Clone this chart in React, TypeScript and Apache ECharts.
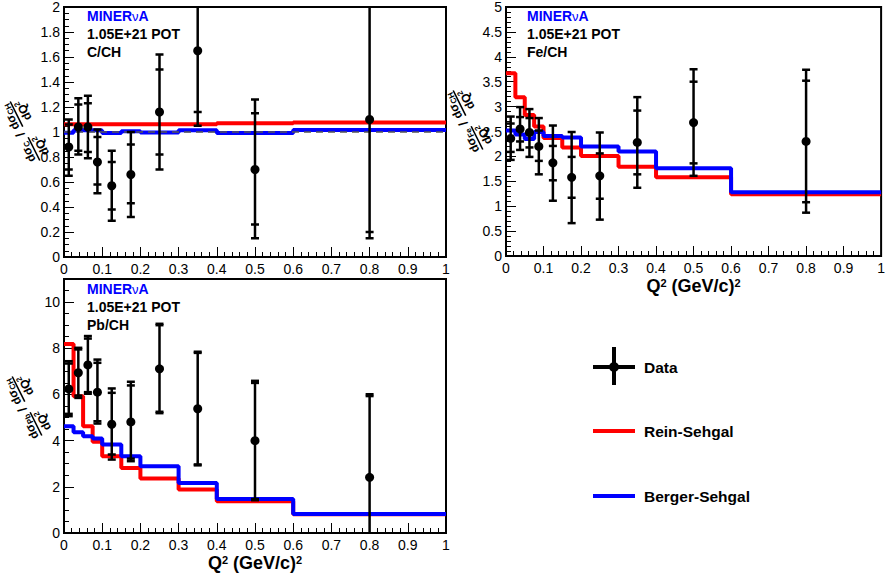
import React, { useEffect, useRef } from "react";
import * as echarts from "echarts";

const FONT = "Liberation Sans, Arial, sans-serif";

// Q^2 bin edges and centres (GeV/c)^2
const binEdges = [0, 0.025, 0.05, 0.075, 0.1, 0.15, 0.2, 0.3, 0.4, 0.6, 1.0];
const binCenters = [0.0125, 0.0375, 0.0625, 0.0875, 0.125, 0.175, 0.25, 0.35, 0.5, 0.8];

// C/CH
const cData = [0.88, 1.04, 1.04, 0.76, 0.57, 0.66, 1.16, 1.65, 0.70, 1.10];
const cStatLo = [0.70, 0.85, 0.84, 0.58, 0.38, 0.43, 0.82, 1.16, 0.26, 0.20];
const cStatHi = [1.06, 1.22, 1.23, 0.96, 0.76, 0.90, 1.50, 2.15, 1.15, 2.80];
const cTotLo = [0.65, 0.82, 0.79, 0.51, 0.29, 0.32, 0.70, 1.05, 0.15, 0.15];
const cTotHi = [1.10, 1.27, 1.29, 1.02, 0.85, 1.00, 1.62, 2.30, 1.26, 3.00];
const cRein = [1.063, 1.063, 1.063, 1.063, 1.063, 1.063, 1.063, 1.063, 1.07, 1.076];
const cBerger = [0.995, 1.015, 1.015, 1.012, 0.993, 1.006, 0.997, 1.015, 0.993, 1.016];

// Fe/CH
const feData = [2.36, 2.55, 2.48, 2.20, 1.87, 1.58, 1.61, 2.28, 2.68, 2.30];
const feStatLo = [2.09, 2.30, 2.18, 1.91, 1.52, 1.17, 1.15, 1.64, 1.86, 1.08];
const feStatHi = [2.66, 2.79, 2.77, 2.52, 2.21, 1.99, 2.06, 2.92, 3.50, 3.52];
const feTotLo = [1.93, 2.13, 1.99, 1.64, 1.11, 0.66, 0.73, 1.37, 1.61, 0.87];
const feTotHi = [2.80, 2.99, 2.95, 2.77, 2.62, 2.49, 2.48, 3.19, 3.75, 3.74];
const feRein = [3.67, 3.19, 2.83, 2.60, 2.37, 2.18, 2.01, 1.79, 1.58, 1.24];
const feBerger = [2.52, 2.44, 2.35, 2.49, 2.41, 2.38, 2.20, 2.10, 1.76, 1.28];

// Pb/CH
const pbData = [6.24, 6.94, 7.28, 6.10, 4.71, 4.81, 7.11, 5.38, 4.00, 2.41];
const pbStatLo = [5.16, 5.95, 6.10, 4.84, 3.40, 3.22, 5.25, 2.97, 1.47, -1.0];
const pbStatHi = [7.34, 7.95, 8.42, 7.37, 6.07, 6.39, 9.00, 7.80, 6.50, 5.93];
const pbTotLo = [5.06, 5.85, 6.03, 4.74, 3.18, 3.11, 5.19, 2.93, 1.42, -1.5];
const pbTotHi = [7.44, 8.02, 8.53, 7.51, 6.26, 6.55, 9.06, 7.85, 6.59, 6.01];
const pbRein = [8.19, 5.92, 4.62, 3.95, 3.32, 2.82, 2.36, 1.88, 1.37, 0.81];
const pbBerger = [4.62, 4.36, 4.19, 4.09, 3.83, 3.32, 2.89, 2.17, 1.47, 0.82];

const refLine = [1, 1];

const xTicks = ["0", "0.1", "0.2", "0.3", "0.4", "0.5", "0.6", "0.7", "0.8", "0.9", "1"];

const RED = "#ff0000";
const BLUE = "#0000ff";

function histData(vals: number[]) {
  return binEdges.map((e, i) => [e, vals[Math.min(i, vals.length - 1)]]);
}

function pointData(d: number[], sLo: number[], sHi: number[], tLo: number[], tHi: number[]) {
  return binCenters.map((x, i) => [x, d[i], sLo[i], sHi[i], tLo[i], tHi[i]]);
}

function renderErr(params: any, api: any) {
  const x = api.value(0);
  const p = api.coord([x, api.value(1)]);
  const sl = api.coord([x, api.value(2)])[1];
  const sh = api.coord([x, api.value(3)])[1];
  const tl = api.coord([x, api.value(4)])[1];
  const th = api.coord([x, api.value(5)])[1];
  const hw = 4;
  const st = { stroke: "#000", lineWidth: 2.5 };
  const cap = (y: number) => ({ type: "line", shape: { x1: p[0] - hw, y1: y, x2: p[0] + hw, y2: y }, style: st });
  return {
    type: "group",
    children: [
      { type: "line", shape: { x1: p[0], y1: tl, x2: p[0], y2: th }, style: st },
      cap(sl), cap(sh), cap(tl), cap(th),
      { type: "circle", shape: { cx: p[0], cy: p[1], r: 4.5 }, style: { fill: "#000" } },
    ],
  };
}

const fracRich = {
  m: { fontSize: 12, fontWeight: "bold", fontFamily: FONT, fill: "#000", lineHeight: 14 },
  s: { fontSize: 8, fontWeight: "bold", fontFamily: FONT, fill: "#000", verticalAlign: "bottom", lineHeight: 14 },
  p: { fontSize: 8, fontWeight: "bold", fontFamily: FONT, fill: "#000", verticalAlign: "top", lineHeight: 14 },
};

// rotated y-axis title: dσ_X/dQ² / dσ_CH/dQ²  (rotation of the graphic group is given in degrees here)
function yTitle(cx: number, cy: number, sub: string) {
  const l1 = 26, gap = 12, l2 = 28;
  const total = l1 + gap + l2;
  const a0 = -total / 2, a1 = a0 + l1, b0 = a1 + gap, b1 = b0 + l2;
  const frac = (x0: number, x1: number, s: string) => [
    { type: "text", x: (x0 + x1) / 2, y: -7, style: { text: `{m|dσ}{s|${s}}`, rich: fracRich, align: "center", verticalAlign: "middle" } },
    { type: "line", shape: { x1: x0, y1: 0, x2: x1, y2: 0 }, style: { stroke: "#000", lineWidth: 1.6 } },
    { type: "text", x: (x0 + x1) / 2, y: 8, style: { text: "{m|dQ}{p|2}", rich: fracRich, align: "center", verticalAlign: "middle" } },
  ];
  return {
    type: "group",
    x: cx,
    y: cy,
    rotation: 90,
    children: [
      ...frac(a0, a1, sub),
      { type: "text", x: (a1 + b0) / 2, y: -6, style: { text: "/", fontSize: 13, fontWeight: "bold", fontFamily: FONT, fill: "#000", align: "center", verticalAlign: "middle" } },
      ...frac(b0, b1, "CH"),
    ],
  };
}

function infoText(x: number, y: number, target: string) {
  const base = { fontFamily: FONT, fontWeight: "bold", fontSize: 14 };
  return [
    {
      type: "text", x, y,
      style: {
        text: "{b|MINER}{n|ν}{b|A}",
        rich: { b: { ...base, fill: BLUE }, n: { fontFamily: FONT, fontSize: 13, fill: BLUE } },
        verticalAlign: "middle",
      },
    },
    { type: "text", x, y: y + 18, style: { ...base, text: "1.05E+21 POT", fill: "#000", verticalAlign: "middle" } },
    { type: "text", x, y: y + 36, style: { ...base, text: target, fill: "#000", verticalAlign: "middle" } },
  ];
}

const q2Name = "{b|Q}{p|2}{b| (GeV/c)}{p|2}";
const q2Rich = {
  b: { fontSize: 18, fontWeight: "bold", fontFamily: FONT, color: "#000", lineHeight: 18 },
  p: { fontSize: 11, fontWeight: "bold", fontFamily: FONT, color: "#000", verticalAlign: "top", lineHeight: 18 },
};

function xAxis(gridIndex: number, withName: boolean, nameGap: number) {
  return {
    type: "value",
    gridIndex,
    min: 0,
    max: 1,
    interval: 0.1,
    axisLine: { show: true, lineStyle: { color: "#000", width: 2 } },
    axisTick: { show: true, inside: true, length: 10, lineStyle: { color: "#000", width: 1 } },
    minorTick: { show: true, splitNumber: 5, length: 5, lineStyle: { color: "#000", width: 1 } },
    splitLine: { show: false },
    axisLabel: {
      margin: 5,
      fontSize: 14,
      fontFamily: FONT,
      color: "#000",
      formatter: (v: number) => xTicks[Math.round(v * 10)],
    },
    name: withName ? q2Name : "",
    nameLocation: "middle",
    nameGap,
    nameMoveOverlap: false,
    nameTextStyle: { rich: q2Rich },
  };
}

function yAxis(gridIndex: number, max: number, interval: number, minorSplit: number, showMax: boolean) {
  return {
    type: "value",
    gridIndex,
    min: 0,
    max,
    interval,
    axisLine: { show: true, lineStyle: { color: "#000", width: 2 } },
    axisTick: { show: true, inside: true, length: 10, lineStyle: { color: "#000", width: 1 } },
    minorTick: { show: true, splitNumber: minorSplit, length: 5, lineStyle: { color: "#000", width: 1 } },
    splitLine: { show: false },
    axisLabel: { margin: 4, fontSize: 14, fontFamily: FONT, color: "#000", showMaxLabel: showMax },
  };
}

function histSeries(idx: number, vals: number[], color: string, name: string) {
  return {
    type: "line",
    name,
    xAxisIndex: idx,
    yAxisIndex: idx,
    step: "end",
    symbol: "none",
    clip: true,
    data: histData(vals),
    lineStyle: { color, width: 4 },
    z: 2,
  };
}

function dataSeries(idx: number, d: any[]) {
  return {
    type: "custom",
    name: "Data",
    xAxisIndex: idx,
    yAxisIndex: idx,
    clip: true,
    renderItem: renderErr,
    encode: { x: 0, y: 1 },
    data: d,
    z: 5,
  };
}

export default function App() {
  const ref = useRef<HTMLDivElement>(null);
  useEffect(() => {
    if (!ref.current) return;
    const chart = echarts.init(ref.current, undefined, { renderer: "svg" });
    const legendText = { fontFamily: FONT, fontWeight: "bold", fontSize: 15.5, fill: "#000", verticalAlign: "middle" };
    chart.setOption({
      animation: false,
      backgroundColor: "#fff",
      grid: [
        { left: 64, top: 6, width: 382, height: 251, show: true, borderColor: "#000", borderWidth: 2 },
        { left: 506, top: 7, width: 381, height: 249, show: true, borderColor: "#000", borderWidth: 2 },
        { left: 64, top: 279, width: 382, height: 254, show: true, borderColor: "#000", borderWidth: 2 },
      ],
      xAxis: [xAxis(0, false, 20), xAxis(1, true, 21), xAxis(2, true, 21)],
      yAxis: [yAxis(0, 2, 0.2, 4, true), yAxis(1, 5, 0.5, 5, true), yAxis(2, 11, 2, 4, false)],
      series: [
        histSeries(0, cRein, RED, "Rein-Sehgal"),
        histSeries(0, cBerger, BLUE, "Berger-Sehgal"),
        {
          type: "line",
          xAxisIndex: 0,
          yAxisIndex: 0,
          symbol: "none",
          data: [[0, refLine[0]], [1, refLine[1]]],
          lineStyle: { color: "#555", width: 1.5, type: [7, 5] },
          z: 3,
        },
        dataSeries(0, pointData(cData, cStatLo, cStatHi, cTotLo, cTotHi)),
        histSeries(1, feRein, RED, "Rein-Sehgal"),
        histSeries(1, feBerger, BLUE, "Berger-Sehgal"),
        dataSeries(1, pointData(feData, feStatLo, feStatHi, feTotLo, feTotHi)),
        histSeries(2, pbRein, RED, "Rein-Sehgal"),
        histSeries(2, pbBerger, BLUE, "Berger-Sehgal"),
        dataSeries(2, pointData(pbData, pbStatLo, pbStatHi, pbTotLo, pbTotHi)),
      ],
      graphic: [
        ...infoText(87, 16, "C/CH"),
        ...infoText(527, 16, "Fe/CH"),
        ...infoText(87, 289, "Pb/CH"),
        yTitle(25, 131, "C"),
        yTitle(468, 120, "Fe"),
        yTitle(27, 406, "Pb"),
        // legend
        { type: "line", shape: { x1: 593, y1: 367, x2: 635, y2: 367 }, style: { stroke: "#000", lineWidth: 4 } },
        { type: "line", shape: { x1: 614, y1: 347, x2: 614, y2: 385 }, style: { stroke: "#000", lineWidth: 4 } },
        { type: "circle", shape: { cx: 614, cy: 367, r: 5 }, style: { fill: "#000" } },
        { type: "text", x: 644, y: 367, style: { ...legendText, text: "Data" } },
        { type: "line", shape: { x1: 593, y1: 431, x2: 635, y2: 431 }, style: { stroke: RED, lineWidth: 4 } },
        { type: "text", x: 644, y: 431, style: { ...legendText, text: "Rein-Sehgal" } },
        { type: "line", shape: { x1: 593, y1: 496, x2: 635, y2: 496 }, style: { stroke: BLUE, lineWidth: 4 } },
        { type: "text", x: 644, y: 496, style: { ...legendText, text: "Berger-Sehgal" } },
      ],
    });
    return () => chart.dispose();
  }, []);
  return (
    <div
      ref={ref}
      style={{ position: "absolute", left: 0, top: 0, width: 888, height: 581, background: "#fff" }}
    />
  );
}
